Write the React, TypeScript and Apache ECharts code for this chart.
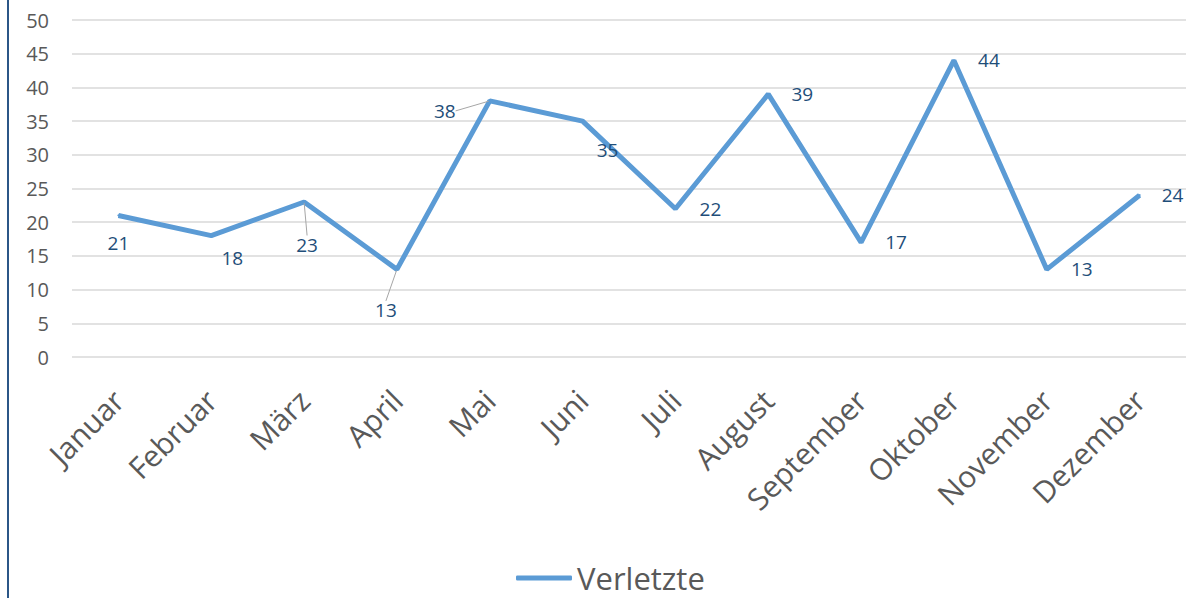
import React, { useEffect, useRef } from "react";
import * as echarts from "echarts";

const months = ["Januar", "Februar", "März", "April", "Mai", "Juni", "Juli", "August", "September", "Oktober", "November", "Dezember"];
const verletzte = [21, 18, 23, 13, 38, 35, 22, 39, 17, 44, 13, 24];
const labelShift: number[][] = [[0, 28], [21, 22], [3, 43], [-11, 41], [-45, 10], [25, 29], [35, 0], [34, 0], [35, 0], [35, 0], [35, 0], [33, 0]];
const leaderIdx = [2, 3, 4];

export default function App() {
  const ref = useRef<HTMLDivElement>(null);
  useEffect(() => {
    const chart = echarts.init(ref.current!, undefined, { renderer: "svg" });
    const font = "Open Sans, Noto Sans, sans-serif";
    chart.setOption({
      animation: false,
      backgroundColor: "#ffffff",
      grid: { left: 72, right: 3, top: 20, bottom: 241 },
      graphic: [
        { type: "line", shape: { x1: 8, y1: 0, x2: 8, y2: 598 }, style: { stroke: "#2b5687", lineWidth: 2 } },
      ],
      legend: {
        top: 562,
        left: 516,
        data: ["Verletzte"],
        icon: "roundRect",
        itemWidth: 56,
        itemHeight: 5,
        itemGap: 4,
        padding: 0,
        textStyle: { color: "#595959", fontSize: 31, lineHeight: 32, fontFamily: font, padding: [0, 0, 0, 0] },
      },
      xAxis: {
        type: "category",
        data: months,
        boundaryGap: true,
        axisLine: { show: false },
        axisTick: { show: false },
        axisLabel: { rotate: 45, color: "#595959", fontSize: 30, fontFamily: font, margin: 38, interval: 0 },
      },
      yAxis: {
        type: "value",
        min: 0,
        max: 50,
        interval: 5,
        axisLine: { show: false },
        axisTick: { show: false },
        axisLabel: { color: "#595959", fontSize: 20, fontFamily: font, margin: 23 },
        splitLine: { lineStyle: { color: "#d9d9d9", width: 1.5 } },
      },
      series: [
        {
          name: "Verletzte",
          type: "line",
          data: verletzte.map((v, i) => ({
            value: v,
            labelLine: leaderIdx.includes(i) ? { show: true, lineStyle: { color: "#a6a6a6", width: 1 } } : { show: false },
          })),
          symbol: "circle",
          symbolSize: 2,
          showSymbol: true,
          lineStyle: { color: "#5b9bd5", width: 5 },
          itemStyle: { color: "#5b9bd5" },
          label: {
            show: true,
            position: "inside",
            color: "#1f4e79",
            fontSize: 19,
            fontFamily: font,
          },
          labelLayout: (p: any) => ({ dx: labelShift[p.dataIndex][0], dy: labelShift[p.dataIndex][1] }),
        },
      ],
    });
    return () => chart.dispose();
  }, []);
  return <div ref={ref} style={{ position: "fixed", left: 0, top: 0, width: 1189, height: 598 }} />;
}
